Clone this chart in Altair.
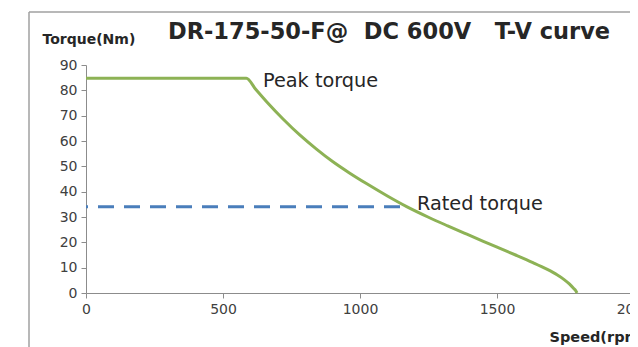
import altair as alt
import pandas as pd

# Torque-speed curve
speed_rpm = [0, 585, 620, 660, 720, 780, 840, 900, 960, 1025, 1100, 1172,
             1250, 1320, 1390, 1450, 1511, 1570, 1631, 1680, 1719, 1745,
             1765, 1780, 1788, 1792]
torque_nm = [84.8, 84.8, 80.3, 75.4, 68.6, 62.4, 56.9, 51.9, 47.5, 43.1, 38.3,
             34.0, 29.9, 26.5, 23.2, 20.4, 17.6, 14.9, 12.0, 9.5, 7.2, 5.3,
             3.5, 1.8, 0.8, 0.0]

# Rated torque dashed line
rated_speed = [0, 1172]
rated_torque = [34.0, 34.0]

# Annotations
ann_text = ["Peak torque", "Rated torque"]
ann_speed = [646, 1208]
ann_torque = [81.3, 32.8]

x_ticks = [0, 500, 1000, 1500, 2000]
y_ticks = [0, 10, 20, 30, 40, 50, 60, 70, 80, 90]

title_text = "DR-175-50-F@\u00a0\u00a0DC 600V\u00a0\u00a0\u00a0T-V curve"

FONT = "DejaVu Sans"
GREEN = "#8db255"
BLUE = "#4a7ebb"
GRAY = "#8c8c8c"

curve_df = pd.DataFrame({"speed": speed_rpm, "torque": torque_nm})
rated_df = pd.DataFrame({"speed": rated_speed, "torque": rated_torque})
ann_df = pd.DataFrame({"label": ann_text, "speed": ann_speed, "torque": ann_torque})
title_df = pd.DataFrame({"t": [title_text]})

x_scale = alt.Scale(domain=[0, 2000], nice=False)
y_scale = alt.Scale(domain=[0, 90], nice=False)

x_axis = alt.Axis(values=x_ticks, format="d", title="Speed(rpm)", grid=False,
                  labelOverlap=False, labelFlush=False,
                  domainColor=GRAY, tickColor=GRAY, tickSize=5,
                  labelFont=FONT, labelFontSize=14, labelColor="#404040",
                  labelPadding=4,
                  titleFont=FONT, titleFontSize=14.5, titleFontWeight="bold",
                  titleColor="#262626", titleAnchor="start", titleAlign="left",
                  titleBaseline="alphabetic", titleX=463, titleY=48)
y_axis = alt.Axis(values=y_ticks, tickCount=10, format="d", title="Torque(Nm)",
                  grid=False, labelOverlap=False, labelFlush=False,
                  domainColor=GRAY, tickColor=GRAY, tickSize=5,
                  labelFont=FONT, labelFontSize=14, labelColor="#404040",
                  labelPadding=4,
                  titleFont=FONT, titleFontSize=14, titleFontWeight="bold",
                  titleColor="#262626", titleAngle=0, titleAlign="left",
                  titleBaseline="alphabetic", titleX=-44, titleY=-22)

X = alt.X("speed:Q", scale=x_scale, axis=x_axis)
Y = alt.Y("torque:Q", scale=y_scale, axis=y_axis)

curve = alt.Chart(curve_df).mark_line(
    color=GREEN, strokeWidth=3, interpolate="monotone"
).encode(x=X, y=Y, order="speed:Q")

rated = alt.Chart(rated_df).mark_line(
    color=BLUE, strokeWidth=3, strokeDash=[16, 10], strokeDashOffset=14
).encode(x=X, y=Y)

ann = alt.Chart(ann_df).mark_text(
    font=FONT, fontSize=19.3, color="#262626", align="left", baseline="alphabetic"
).encode(x=X, y=Y, text="label:N")

title = alt.Chart(title_df).mark_text(
    font=FONT, fontSize=22.5, fontWeight="bold", color="#262626",
    align="left", baseline="alphabetic"
).encode(x=alt.value(82), y=alt.value(-26), text="t:N")

frame_left = alt.Chart(title_df).mark_rule(color="#a0a0a0", strokeWidth=1.5).encode(
    x=alt.value(-57), y=alt.value(-53), y2=alt.value(300)
)
frame_top = alt.Chart(title_df).mark_rule(color="#a0a0a0", strokeWidth=1.5).encode(
    x=alt.value(-57), x2=alt.value(600), y=alt.value(-53)
)

chart = alt.layer(curve, rated, ann, frame_left, frame_top, title).properties(
    width=548, height=228,
    autosize=alt.AutoSizeParams(type="none"),
    padding={"left": 78, "top": 57, "right": -4, "bottom": 54},
    background="white",
).configure_view(stroke=None)

chart.save("out.html", embed_options={"renderer": "svg", "actions": False})
